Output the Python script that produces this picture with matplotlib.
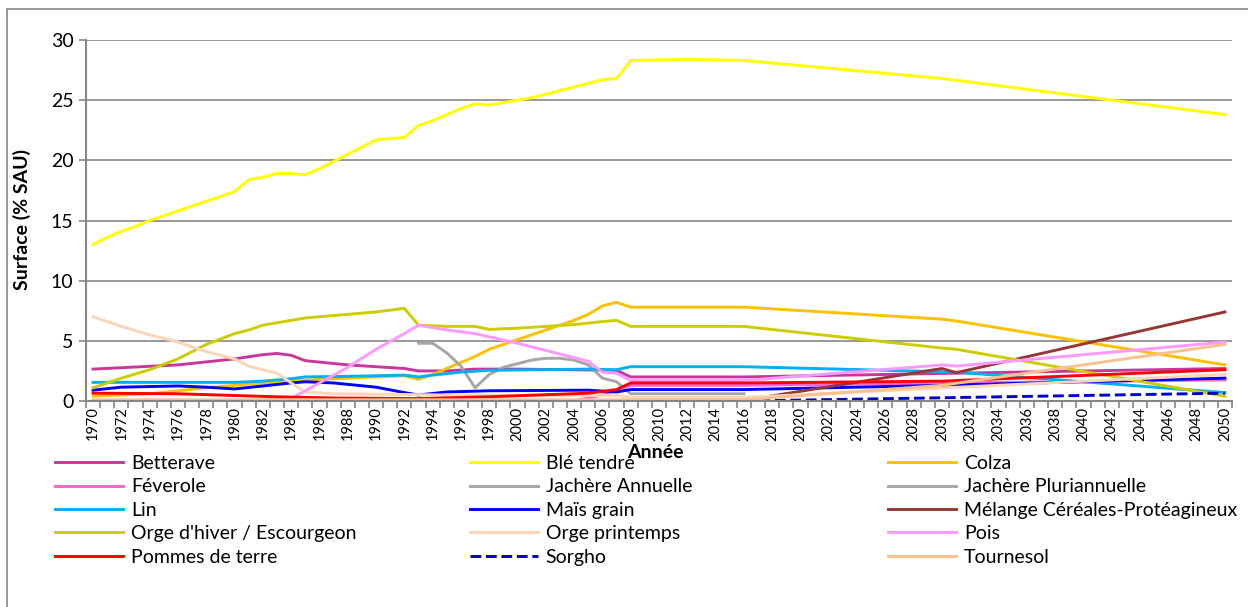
import matplotlib.pyplot as plt
from matplotlib.patches import Rectangle

plt.rcParams['font.family'] = ['Lato', 'DejaVu Sans']

# Données (surface en % SAU)
betterave_x = [1970, 1976, 1980, 1982, 1983, 1984, 1985, 1988, 1992, 1993, 1995, 1997, 2000, 2007, 2008, 2016, 2050]
betterave_y = [2.65, 3.0, 3.5, 3.85, 3.95, 3.8, 3.35, 3.0, 2.7, 2.5, 2.5, 2.65, 2.65, 2.55, 2.0, 2.0, 2.7]

ble_x = list(range(1970, 2009)) + [2012, 2016, 2030, 2050]
ble_y = [13.0, 13.6, 14.1, 14.5, 15.0, 15.4, 15.8, 16.2, 16.6, 17.0,
         17.4, 18.4, 18.6, 18.9, 18.9, 18.8, 19.3, 19.9, 20.5, 21.1,
         21.7, 21.8, 21.9, 22.9, 23.3, 23.8, 24.3, 24.7, 24.6, 24.8,
         25.0, 25.2, 25.5, 25.8, 26.1, 26.4, 26.7, 26.8, 28.3,
         28.4, 28.3, 26.8, 23.8]

colza_x = [1970, 1974, 1978, 1982, 1986, 1990, 1992, 1993, 1994, 1995, 1996, 1997, 1998, 1999, 2000,
           2001, 2002, 2003, 2004, 2005, 2006, 2007, 2008, 2016, 2030, 2031, 2050]
colza_y = [0.4, 0.6, 1.1, 1.5, 1.8, 2.0, 2.1, 1.8, 2.2, 2.7, 3.2, 3.7, 4.3, 4.7, 5.1,
           5.5, 5.9, 6.3, 6.7, 7.2, 7.9, 8.2, 7.8, 7.8, 6.8, 6.65, 3.0]

feverole_x = [1980, 2004, 2006, 2007, 2008, 2016, 2050]
feverole_y = [0.0, 0.0, 0.5, 0.9, 1.3, 1.3, 1.75]

jachere_ann_x = [1993, 1994, 1995, 1996, 1997, 1998, 1999, 2000, 2001, 2002, 2003, 2004, 2005, 2006, 2007, 2008, 2016]
jachere_ann_y = [4.8, 4.8, 4.0, 2.9, 1.1, 2.2, 2.8, 3.1, 3.4, 3.55, 3.55, 3.4, 3.0, 1.9, 1.6, 0.6, 0.6]

jachere_plur_x = [1993, 2008, 2016]
jachere_plur_y = [0.1, 0.1, 0.1]

lin_x = [1970, 1980, 1982, 1984, 1985, 1988, 1992, 1993, 1994, 1996, 1998, 2005, 2007, 2008, 2016, 2031, 2050]
lin_y = [1.55, 1.55, 1.65, 1.85, 2.0, 2.05, 2.15, 2.0, 2.15, 2.4, 2.55, 2.65, 2.6, 2.85, 2.85, 2.4, 0.7]

mais_x = [1970, 1972, 1976, 1978, 1980, 1982, 1984, 1985, 1987, 1990, 1992, 1993, 1995, 1998, 2005, 2007, 2008, 2016, 2030, 2050]
mais_y = [0.9, 1.15, 1.25, 1.15, 1.0, 1.25, 1.5, 1.6, 1.5, 1.15, 0.7, 0.5, 0.75, 0.85, 0.9, 0.75, 0.95, 0.95, 1.3, 1.9]

melange_x = [2016, 2030, 2031, 2050]
melange_y = [0.05, 2.7, 2.35, 7.4]

orge_hiver_x = [1970, 1972, 1974, 1976, 1978, 1980, 1981, 1982, 1983, 1984, 1985, 1986, 1988, 1990, 1992, 1993,
                1995, 1997, 1998, 2000, 2002, 2004, 2006, 2007, 2008, 2016, 2030, 2031, 2050]
orge_hiver_y = [1.1, 1.9, 2.6, 3.5, 4.7, 5.6, 5.9, 6.3, 6.5, 6.7, 6.9, 7.0, 7.2, 7.4, 7.7, 6.3,
                6.2, 6.2, 5.95, 6.05, 6.2, 6.35, 6.6, 6.7, 6.2, 6.2, 4.4, 4.3, 0.4]

orge_print_x = [1970, 1972, 1974, 1976, 1978, 1980, 1981, 1983, 1984, 1985, 1987, 1995, 2007, 2008, 2016, 2050]
orge_print_y = [7.0, 6.2, 5.5, 4.9, 4.1, 3.5, 2.9, 2.3, 1.5, 0.75, 0.6, 0.5, 0.45, 0.3, 0.3, 2.2]

pois_x = [1980, 1984, 1986, 1988, 1990, 1992, 1993, 1995, 1997, 2000, 2002, 2004, 2005, 2006, 2007, 2008, 2016, 2030, 2031, 2050]
pois_y = [0.0, 0.2, 1.5, 2.8, 4.3, 5.6, 6.3, 5.9, 5.6, 4.8, 4.2, 3.6, 3.3, 2.4, 2.3, 1.7, 1.7, 3.0, 2.9, 4.9]

pdt_x = [1970, 1976, 1983, 1987, 1993, 1998, 2005, 2007, 2008, 2016, 2030, 2050]
pdt_y = [0.65, 0.6, 0.35, 0.25, 0.2, 0.35, 0.65, 0.95, 1.5, 1.5, 1.65, 2.6]

sorgho_x = [2016, 2050]
sorgho_y = [0.0, 0.65]

tournesol_x = [1970, 2016, 2030, 2050]
tournesol_y = [0.1, 0.1, 1.3, 4.7]

noms = ['Betterave', 'Blé tendre', 'Colza', 'Féverole', 'Jachère Annuelle', 'Jachère Pluriannuelle',
        'Lin', 'Maïs grain', 'Mélange Céréales-Protéagineux', "Orge d'hiver / Escourgeon",
        'Orge printemps', 'Pois', 'Pommes de terre', 'Sorgho', 'Tournesol']
series_x = [betterave_x, ble_x, colza_x, feverole_x, jachere_ann_x, jachere_plur_x, lin_x, mais_x,
            melange_x, orge_hiver_x, orge_print_x, pois_x, pdt_x, sorgho_x, tournesol_x]
series_y = [betterave_y, ble_y, colza_y, feverole_y, jachere_ann_y, jachere_plur_y, lin_y, mais_y,
            melange_y, orge_hiver_y, orge_print_y, pois_y, pdt_y, sorgho_y, tournesol_y]
couleurs = ['#C8389A', '#FFFF00', '#FFC000', '#FF66CC', '#A6A6A6', '#A6A6A6', '#00B0F0', '#0000FF',
            '#953735', '#CCCC00', '#FBD5B5', '#FF99FF', '#FF0000', '#0000CC', '#FAC090']
styles = ['-'] * 13 + ['--', '-']

fig = plt.figure(figsize=(12.48, 6.07), dpi=100)
ax = fig.add_axes([86 / 1248, 1 - 401 / 607, 1146 / 1248, 361 / 607])

handles = []
for x, y, nom, c, ls in zip(series_x, series_y, noms, couleurs, styles):
    ln, = ax.plot(x, y, color=c, lw=2.1, ls=ls, label=nom, solid_joinstyle='round')
    handles.append(ln)

ax.set_xlim(1969.5, 2050.5)
ax.set_ylim(0, 30)
ax.set_yticks(range(0, 31, 5))
ax.set_xticks(range(1970, 2051, 2))
ax.set_xticks([a + 0.5 for a in range(1969, 2051)], minor=True)
ax.tick_params(axis='x', which='major', length=0, rotation=90, labelsize=10.5, pad=4)
ax.tick_params(axis='x', which='minor', length=5, color='#868686', width=1.2)
ax.tick_params(axis='y', length=5, color='#868686', width=1.2, labelsize=14, pad=4)
ax.yaxis.grid(True, color='#868686', lw=1.2)
ax.set_axisbelow(True)
for s in ['top', 'right']:
    ax.spines[s].set_visible(False)
for s in ['left', 'bottom']:
    ax.spines[s].set_color('#868686')
    ax.spines[s].set_linewidth(1.5)

fig.text(22 / 1248, 1 - 220 / 607, 'Surface (% SAU)', rotation=90, fontsize=14,
         fontweight='bold', ha='center', va='center')

# légende : trois colonnes remplies ligne par ligne
for col, x0 in enumerate([55, 470, 888]):
    idx = [col + 3 * r for r in range(5)]
    fig.legend([handles[i] for i in idx], [noms[i] for i in idx], loc='upper left',
               bbox_to_anchor=(x0 / 1248, 1 - 455 / 607), frameon=False, fontsize=14,
               handlelength=3.5, handletextpad=0.4, labelspacing=0.33, borderpad=0, borderaxespad=0)

fig.text(655 / 1248, 1 - 452 / 607, 'Année', fontsize=14, fontweight='bold', ha='center', va='center')

fig.add_artist(Rectangle((7 / 1248, -0.1), 1.2, 1.1 - 9 / 607,
                         transform=fig.transFigure, fill=False, ec='#868686', lw=1.2))

fig.savefig('out.png', dpi=100)
